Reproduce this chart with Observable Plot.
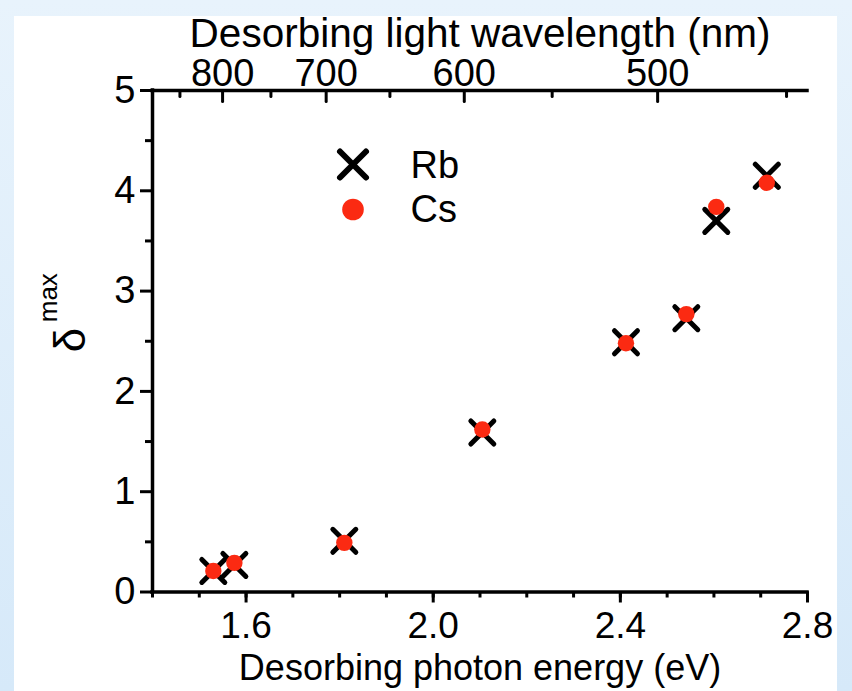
<!DOCTYPE html>
<html>
<head>
<meta charset="utf-8">
<script src="https://cdn.jsdelivr.net/npm/d3@7"></script>
<script src="https://cdn.jsdelivr.net/npm/@observablehq/plot@0.6"></script>
<style>
  html, body { margin: 0; padding: 0; }
  #page {
    position: relative; width: 852px; height: 691px; overflow: hidden;
    background: linear-gradient(to bottom, #e8f3fc, #d6e9f9);
  }
  #sheet { position: absolute; left: 14px; top: 16px; right: 15px; bottom: 0; background: #ffffff; }
  #chart { position: absolute; left: 0; top: 0; }
</style>
</head>
<body>
<div id="page"><div id="sheet"></div><div id="chart"></div></div>
<script>
// Photon energies (eV) of the desorbing light and the peak desorption yield
const energy = [1.53, 1.575, 1.81, 2.105, 2.412, 2.541, 2.605, 2.713];
const rb = [0.21, 0.27, 0.51, 1.59, 2.49, 2.73, 3.70, 4.15];
const cs = [0.21, 0.29, 0.49, 1.62, 2.48, 2.77, 3.84, 4.08];
const series = ["Rb", "Cs"];

// Tick values
const xMajor = [1.6, 2.0, 2.4, 2.8];
const xMinor = [1.4, 1.5, 1.6, 1.7, 1.8, 1.9, 2.0, 2.1, 2.2, 2.3, 2.4, 2.5, 2.6, 2.7, 2.8];
const yMajor = [0, 1, 2, 3, 4, 5];
const yMinor = [0.5, 1.5, 2.5, 3.5, 4.5];
const wlMajor = [800, 700, 600, 500];
const wlMinor = [850, 750, 650, 550, 450];

const HC = 1239.84; // eV·nm, converts wavelength to photon energy
const toEnergy = (nm) => HC / nm;

const rows = energy.map((e, i) => ({energy: e, rb: rb[i], cs: cs[i]}));

const red = "#fb2a12";
const font = "Liberation Sans, Arial, Helvetica, sans-serif";

// Cross glyph whose arm half-length equals the dot radius
const cross = {
  draw(ctx, size) {
    const r = Math.sqrt(size / Math.PI);
    ctx.moveTo(-r, -r); ctx.lineTo(r, r);
    ctx.moveTo(r, -r); ctx.lineTo(-r, r);
  }
};
// Straight tick used for the wavelength axis
const tickShape = { draw(ctx, l) { ctx.moveTo(0, 0); ctx.lineTo(0, -l); } };

const chart = Plot.plot({
  width: 852,
  height: 691,
  marginLeft: 152,
  marginRight: 45,
  marginTop: 90,
  marginBottom: 99.5,
  style: {background: "transparent", color: "black", fontFamily: font},
  x: {domain: [1.4, 2.8], label: null},
  y: {domain: [0, 5], label: null},
  marks: [
    // bottom energy axis
    Plot.axisX(xMinor, {anchor: "bottom", tickSize: 6, strokeWidth: 3, tickFormat: () => "", label: null}),
    Plot.axisX(xMajor, {anchor: "bottom", tickSize: 11, tickPadding: 9, strokeWidth: 3,
      fontSize: 37, fontFamily: font, tickFormat: d3.format(".1f"), label: null}),
    // left axis
    Plot.axisY(yMinor, {anchor: "left", tickSize: 7, strokeWidth: 3, tickFormat: () => "", label: null}),
    Plot.axisY(yMajor, {anchor: "left", tickSize: 12, tickPadding: 5, strokeWidth: 3,
      fontSize: 38, fontFamily: font, tickFormat: d3.format("d"), label: null}),
    // top wavelength axis, ticks pointing inward
    Plot.vector(wlMinor, {x: toEnergy, frameAnchor: "top", length: 6, rotate: 180, anchor: "start",
      shape: tickShape, stroke: "black", strokeWidth: 3}),
    Plot.vector(wlMajor, {x: toEnergy, frameAnchor: "top", length: 11, rotate: 180, anchor: "start",
      shape: tickShape, stroke: "black", strokeWidth: 3}),
    Plot.text(wlMajor, {x: toEnergy, frameAnchor: "top", text: (d) => String(d), dy: -5,
      lineAnchor: "bottom", fontSize: 38, fontFamily: font}),
    // axis lines
    Plot.ruleY([0], {stroke: "black", strokeWidth: 3.5, strokeLinecap: "square"}),
    Plot.ruleY([5], {stroke: "black", strokeWidth: 3.5, strokeLinecap: "square"}),
    Plot.ruleX([1.4], {stroke: "black", strokeWidth: 3.5, strokeLinecap: "square"}),
    // axis titles
    Plot.text(["Desorbing light wavelength (nm)"], {frameAnchor: "top", dy: -44, lineAnchor: "bottom",
      fontSize: 40.5, fontFamily: font}),
    Plot.text(["Desorbing photon energy (eV)"], {frameAnchor: "bottom", dy: 88, lineAnchor: "bottom",
      fontSize: 36, fontFamily: font}),
    Plot.text(["δ"], {frameAnchor: "left", rotate: -90, dx: -68, dy: 11, lineAnchor: "bottom",
      fontSize: 44, fontFamily: font}),
    Plot.text(["max"], {frameAnchor: "left", rotate: -90, dx: -96, dy: -19, lineAnchor: "bottom",
      fontSize: 26, fontFamily: font}),
    // data
    Plot.dot(rows, {x: "energy", y: "rb", symbol: cross, r: 11.5, stroke: "black", strokeWidth: 5,
      strokeLinecap: "round"}),
    Plot.dot(rows, {x: "energy", y: "cs", r: 8.2, fill: red}),
    // legend
    Plot.dot([series[0]], {x: null, y: null, frameAnchor: "top-left", dx: 200.5, dy: 74, symbol: cross,
      r: 13, stroke: "black", strokeWidth: 6, strokeLinecap: "round"}),
    Plot.dot([series[1]], {x: null, y: null, frameAnchor: "top-left", dx: 200.5, dy: 119, r: 10.8, fill: red}),
    Plot.text([series[0]], {x: null, y: null, frameAnchor: "top-left", text: (d) => d, dx: 258, dy: 75,
      textAnchor: "start", lineAnchor: "middle", fontSize: 38, fontFamily: font}),
    Plot.text([series[1]], {x: null, y: null, frameAnchor: "top-left", text: (d) => d, dx: 258, dy: 119,
      textAnchor: "start", lineAnchor: "middle", fontSize: 38, fontFamily: font})
  ]
});

document.getElementById("chart").appendChild(chart);
</script>
</body>
</html>
